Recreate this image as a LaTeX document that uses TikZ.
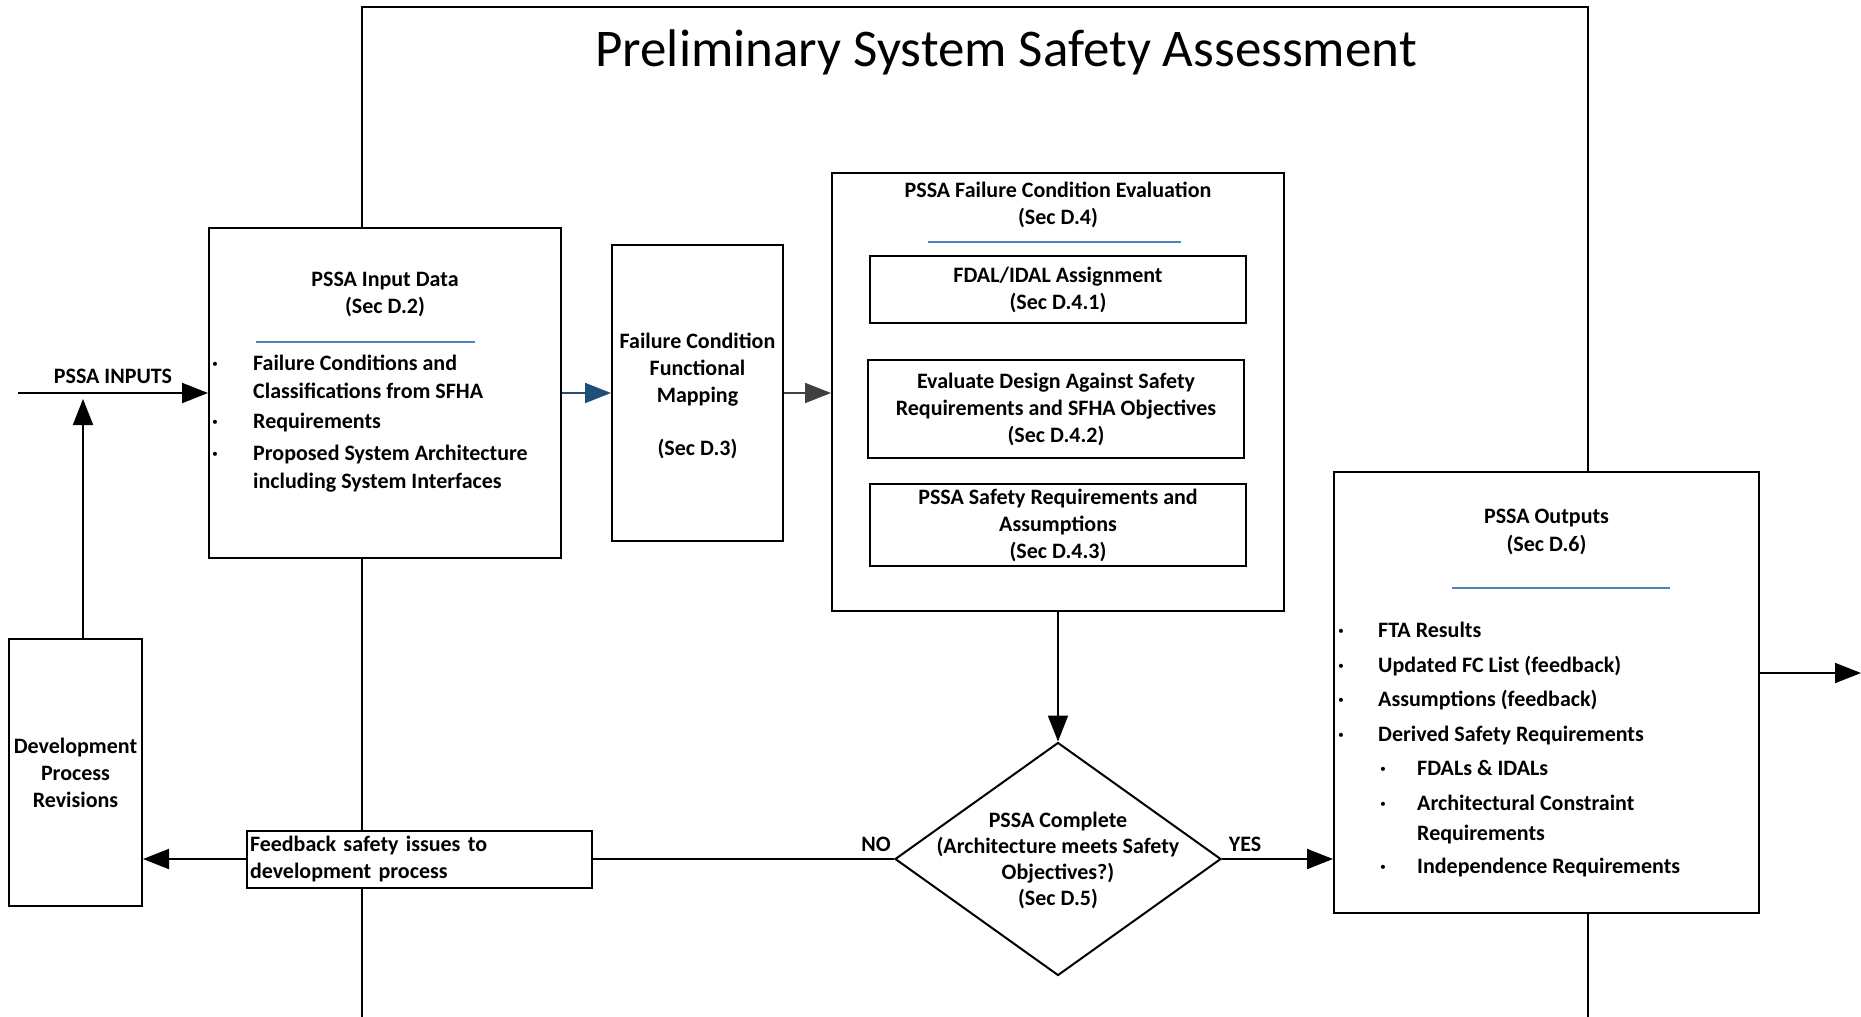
\documentclass[tikz,border=0pt]{standalone}
\usepackage{fontspec}
\newfontfamily\calib{Carlito}
\usetikzlibrary{arrows.meta,shapes.geometric}
\definecolor{rulerblue}{HTML}{4F81BD}
\definecolor{flowblue}{HTML}{1F4E79}
\definecolor{flowgray}{HTML}{404040}

\begin{document}
\begin{tikzpicture}[x=1pt,y=-1pt,
  box/.style={draw, line width=2pt, fill=white, inner sep=0pt},
  txt/.style={font=\calib\bfseries\fontsize{22}{27}\selectfont, align=center, inner sep=0pt},
  listtxt/.style={font=\calib\bfseries\fontsize{22}{28}\selectfont, align=left, inner sep=0pt, anchor=west},
  divider/.style={draw=rulerblue, line width=1.3pt},
  frameline/.style={line width=2pt},
  plain/.style={line width=2pt},
  arr/.style={line width=2pt, -{Triangle[length=26pt,width=20pt]}},
]
\useasboundingbox (0,0) rectangle (1861,1017);

% outer frame of the assessment, open at the bottom
\draw[frameline] (362,1017) -- (362,7) -- (1588,7) -- (1588,1017);
\node[font=\calib\fontsize{53}{58}\selectfont, inner sep=0pt] (ttl) at (1006,52) {Preliminary System Safety Assessment};

% PSSA input data
\node[box, minimum width=352pt, minimum height=330pt] (inp) at (385,393) {};
\node[txt] (inpT) at (385,294.5) {PSSA Input Data\\(Sec D.2)};
\draw[divider] (256,342) -- (475,342);
\node[listtxt] (inpL) at (212,424) {%
\makebox[41pt][l]{·}Failure Conditions and\\
\hspace*{41pt}Classifications from SFHA\\[2pt]
\makebox[41pt][l]{·}Requirements\\[4pt]
\makebox[41pt][l]{·}Proposed System Architecture\\
\hspace*{41pt}including System Interfaces};

% failure condition functional mapping
\node[box, minimum width=171pt, minimum height=296pt] (map) at (697.5,393) {};
\node[txt] (mapT) at (697.5,395.5)
  {Failure Condition\\Functional\\Mapping\\[26pt](Sec D.3)};

% failure condition evaluation
\node[box, minimum width=452pt, minimum height=438pt] (eval) at (1058,392) {};
\node[txt] (evalT) at (1058,205) {PSSA Failure Condition Evaluation\\(Sec D.4)};
\draw[divider] (928,242) -- (1181,242);
\node[box, txt, minimum width=376pt, minimum height=67pt] (fdal) at (1058,289.5)
  {FDAL/IDAL Assignment\\(Sec D.4.1)};
\node[box, txt, minimum width=376pt, minimum height=98pt] (evd) at (1056,409)
  {Evaluate Design Against Safety\\Requirements and SFHA Objectives\\(Sec D.4.2)};
\node[box, txt, minimum width=376pt, minimum height=82pt] (sreq) at (1058,525)
  {PSSA Safety Requirements and\\Assumptions\\(Sec D.4.3)};

% decision
\node[diamond, box, minimum width=326pt, minimum height=233pt] (dec) at (1058,859) {};
\node[txt, font=\calib\bfseries\fontsize{22}{26}\selectfont] (decT) at (1058,860)
  {PSSA Complete\\(Architecture meets Safety\\Objectives?)\\(Sec D.5)};
\node[txt] (noL) at (876,844) {NO};
\node[txt] (yesL) at (1245,844) {YES};

% feedback path
\node[box, txt, align=left, text width=339pt, minimum width=345pt, minimum height=57pt] (fb) at (419.5,859)
  {Feedback safety issues to\\development process};
\node[box, txt, minimum width=133pt, minimum height=267pt] (dev) at (75.5,772.5)
  {Development\\Process\\Revisions};

% PSSA outputs
\node[box, minimum width=425pt, minimum height=441pt] (out) at (1546.5,692.5) {};
\node[txt, font=\calib\bfseries\fontsize{22}{28}\selectfont] (outT) at (1546.5,532) {PSSA Outputs\\(Sec D.6)};
\draw[divider] (1452,588) -- (1670,588);
\node[listtxt, font=\calib\bfseries\fontsize{22}{30}\selectfont] (outL) at (1338,749.5) {%
\makebox[40pt][l]{·}FTA Results\\[4.5pt]
\makebox[40pt][l]{·}Updated FC List (feedback)\\[4.5pt]
\makebox[40pt][l]{·}Assumptions (feedback)\\[4.5pt]
\makebox[40pt][l]{·}Derived Safety Requirements\\[4.5pt]
\hspace*{42pt}\makebox[37pt][l]{·}FDALs \& IDALs\\[4.5pt]
\hspace*{42pt}\makebox[37pt][l]{·}Architectural Constraint\\
\hspace*{79pt}Requirements\\[3pt]
\hspace*{42pt}\makebox[37pt][l]{·}Independence Requirements};

% connectors
\coordinate (inStart) at (18,393);
\coordinate (inTip) at (83,399);
\coordinate (outEnd) at (1861,673);
\draw[arr] (inStart) -- (inp.west);
\node[txt] (inLbl) at (113,376) {PSSA INPUTS};
\draw[arr] (inTip |- dev.north) -- (inTip);
\draw[arr, draw=flowblue, fill=flowblue] (inp.east |- map.west) -- (map.west);
\draw[arr, draw=flowgray, fill=flowgray] (map.east) -- (map.east -| eval.west);
\draw[arr] (eval.south) -- (dec.north);
\draw[arr] (dec.east) -- (dec.east -| out.west);
\draw[plain] (dec.west) -- (dec.west -| fb.east);
\draw[arr] (fb.west) -- (fb.west -| dev.east);
\draw[arr] (out.east |- outEnd) -- (outEnd);
\end{tikzpicture}
\end{document}
